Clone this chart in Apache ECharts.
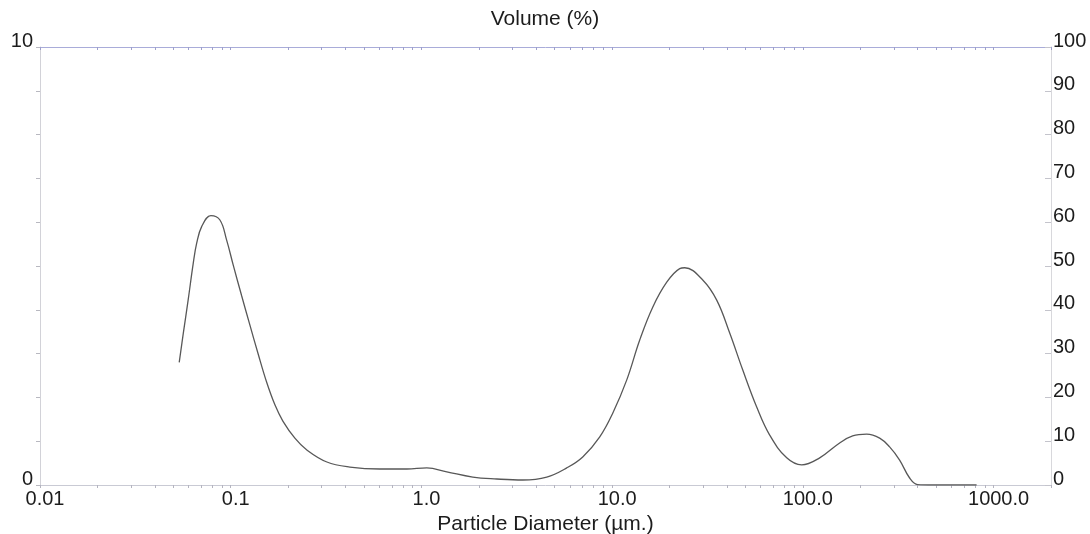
<!DOCTYPE html>
<html>
<head>
<meta charset="utf-8">
<script src="https://cdn.jsdelivr.net/npm/echarts@6/dist/echarts.min.js"></script>
<style>
  html, body { margin: 0; padding: 0; background: #ffffff; }
  #chart { width: 1090px; height: 534px; }
</style>
</head>
<body>
<div id="chart"></div>
<script>
// Particle size distribution (volume %) over a log diameter axis
const diameters = [0.0537, 0.0564, 0.0598, 0.0636, 0.0663, 0.0704, 0.0787, 0.0878, 0.0952, 0.1031,
  0.1141, 0.1261, 0.1393, 0.1542, 0.1705, 0.1877, 0.2170, 0.2507, 0.3193, 0.4215, 0.605, 0.839,
  1.067, 1.359, 1.859, 2.485, 3.40, 4.54, 5.78, 7.01, 8.61, 10.07,
  11.93, 13.95, 16.32, 19.33, 22.61, 24.02, 29.85, 35.34, 41.34, 48.35,
  57.27, 66.99, 82.27, 98.6, 122.5, 155.9, 182.4, 216, 252.7, 285,
  321.6, 362.9, 399.7, 479, 814.6];
const volumes = [2.80, 3.46, 4.22, 5.06, 5.52, 5.90, 6.15, 6.05, 5.59, 5.02,
  4.32, 3.65, 2.99, 2.35, 1.83, 1.46, 1.07, 0.80, 0.525, 0.41, 0.365, 0.365,
  0.39, 0.30, 0.18, 0.137, 0.114, 0.18, 0.39, 0.64, 1.10, 1.64,
  2.40, 3.31, 4.06, 4.63, 4.94, 4.96, 4.68, 4.22, 3.47, 2.63,
  1.78, 1.14, 0.62, 0.46, 0.62, 0.96, 1.12, 1.16, 1.07, 0.87,
  0.57, 0.16, 0.01, 0, 0];

const xLabelValues = [0.01, 0.1, 1, 10, 100, 1000];
const xLabelTexts = ['0.01', '0.1', '1.0', '10.0', '100.0', '1000.0'];
const leftLabelValues = [0, 10];
const titleText = 'Volume (%)';
const xName = 'Particle Diameter (µm.)';

// minor tick positions: 1..9 of every decade from 0.01 to 2000
const xTickValues = [];
for (let e = -2; e <= 3; e++) {
  for (let m = 1; m <= 9; m++) {
    const v = +(m * Math.pow(10, e)).toPrecision(3);
    if (v <= 2000) xTickValues.push(v);
  }
}

const FONT = 'Liberation Sans, Arial, sans-serif';
const TEXT = '#1c1c1c';
const FS = 20;

function xLabel(v) {
  const i = Math.round(Math.log10(v)) + 2;
  return xLabelTexts[i] !== undefined ? xLabelTexts[i] : '';
}

const chart = echarts.init(document.getElementById('chart'), null, { renderer: 'canvas' });

chart.setOption({
  backgroundColor: '#ffffff',
  animation: false,
  title: {
    text: titleText,
    left: 'center',
    top: 4,
    textStyle: { fontFamily: FONT, fontSize: 21, fontWeight: 'normal', color: TEXT }
  },
  grid: { left: 40, right: 39, top: 47, bottom: 49, containLabel: false, outerBoundsMode: 'none' },
  xAxis: [
    {
      type: 'log',
      logBase: 10,
      min: 0.01,
      max: 2000,
      position: 'bottom',
      name: xName,
      nameLocation: 'middle',
      nameGap: 29,
      nameTextStyle: { fontFamily: FONT, fontSize: 21, color: TEXT },
      axisLine: { show: true, onZero: false, lineStyle: { color: '#c9cad4', width: 1 } },
      axisTick: { show: true, length: 3, inside: false, customValues: xTickValues,
        lineStyle: { color: '#b4b4c0' } },
      axisLabel: { show: true, customValues: xLabelValues, formatter: xLabel,
        fontFamily: FONT, fontSize: FS, color: TEXT, margin: 4, padding: [0, 0, 0, 10] },
      splitLine: { show: false },
      minorTick: { show: false },
      minorSplitLine: { show: false }
    },
    {
      type: 'log',
      logBase: 10,
      min: 0.01,
      max: 2000,
      position: 'top',
      axisLine: { show: true, onZero: false, lineStyle: { color: '#a9acd9', width: 1 } },
      axisTick: { show: true, length: 3, inside: true, customValues: xTickValues,
        lineStyle: { color: '#9ea0cc' } },
      axisLabel: { show: false },
      splitLine: { show: false }
    }
  ],
  yAxis: [
    {
      type: 'value',
      min: 0,
      max: 10,
      interval: 1,
      position: 'left',
      axisLine: { show: true, onZero: false, lineStyle: { color: '#d2d2d8', width: 1 } },
      axisTick: { show: true, length: 4, lineStyle: { color: '#b8b8c0' } },
      axisLabel: {
        formatter: v => (leftLabelValues.indexOf(v) >= 0 ? String(v) : ''),
        fontFamily: FONT, fontSize: FS, color: TEXT, margin: 7,
        verticalAlign: 'bottom', lineHeight: 12
      },
      splitLine: { show: false }
    },
    {
      type: 'value',
      min: 0,
      max: 100,
      interval: 10,
      position: 'right',
      axisLine: { show: true, onZero: false, lineStyle: { color: '#d8d8dc', width: 1 } },
      axisTick: { show: true, inside: true, length: 6, lineStyle: { color: '#c4c4cc' } },
      axisLabel: { fontFamily: FONT, fontSize: FS, color: TEXT, margin: 2,
        verticalAlign: 'bottom', lineHeight: 12 },
      splitLine: { show: false }
    }
  ],
  series: [
    {
      type: 'line',
      xAxisIndex: 0,
      yAxisIndex: 0,
      data: diameters.map((d, i) => [d, volumes[i]]),
      smooth: 0.4,
      showSymbol: false,
      silent: true,
      lineStyle: { color: '#585858', width: 1.3 }
    }
  ]
});
</script>
</body>
</html>
